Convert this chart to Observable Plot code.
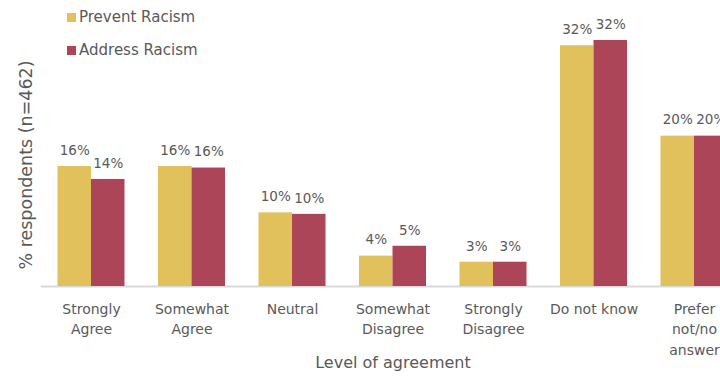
<!DOCTYPE html>
<html>
<head>
<meta charset="utf-8">
<script src="https://cdn.jsdelivr.net/npm/d3@7"></script>
<script src="https://cdn.jsdelivr.net/npm/@observablehq/plot@0.6"></script>
<style>
  html, body { margin: 0; padding: 0; background: #fff; overflow: hidden; width: 720px; height: 376px; }
  #wrap { position: relative; width: 720px; height: 376px; overflow: hidden; font-family: "Century Gothic", "DejaVu Sans", sans-serif; color: #595959; }
  #chart svg { max-width: none !important; }
  #legend { position: absolute; left: 67px; top: 6px; font-size: 15px; }
  .row { display: flex; align-items: center; height: 22px; margin-bottom: 11px; }
  .sw { width: 9px; height: 9px; margin-right: 3px; }
</style>
</head>
<body>
<div id="wrap"><div id="chart"></div><div id="legend"></div></div>
<script>
const categories = ["Strongly Agree", "Somewhat Agree", "Neutral", "Somewhat Disagree", "Strongly Disagree", "Do not know", "Prefer not/no answer"];
const tickLabels = ["Strongly\nAgree", "Somewhat\nAgree", "Neutral", "Somewhat\nDisagree", "Strongly\nDisagree", "Do not know", "Prefer\nnot/no\nanswer"];
const series = ["Prevent Racism", "Address Racism"];
const colors = ["#E0C15B", "#AD4558"];
const prevent = [15.8, 15.8, 9.7, 4.0, 3.2, 31.7, 19.8];
const address = [14.1, 15.6, 9.5, 5.3, 3.2, 32.4, 19.8];

const data = categories.flatMap((c, i) => [
  {category: c, series: series[0], value: prevent[i]},
  {category: c, series: series[1], value: address[i]}
]);

const font = '"Century Gothic", "DejaVu Sans", sans-serif';

const chart = Plot.plot({
  width: 760,
  height: 376,
  marginLeft: 40.75,
  marginRight: 15.75,
  marginTop: 43,
  marginBottom: 90,
  style: {fontFamily: font, color: "#595959", background: "transparent", overflow: "visible", maxWidth: "none"},
  fx: {domain: categories, padding: 0, round: false, label: null},
  x: {domain: series, paddingInner: 0, paddingOuter: 0.5, round: false, axis: null},
  y: {domain: [0, 32], axis: null},
  color: {domain: series, range: colors},
  marks: [
    Plot.ruleY([0], {stroke: "#D9D9D9", strokeWidth: 2}),
    Plot.barY(data, {fx: "category", x: "series", y: "value", fill: "series"}),
    Plot.text(data, {fx: "category", x: "series", y: "value", text: d => Math.round(d.value) + "%", dy: -16, fontSize: 13.5, fill: "#595959"}),
    Plot.axisFx({anchor: "bottom", tickSize: 0, tickPadding: 13, tickFormat: d => tickLabels[categories.indexOf(d)], fontSize: 14, lineHeight: 1.45, label: null, fill: "#595959"}),
    Plot.axisFx({anchor: "bottom", ticks: [], tickSize: 0, label: "Level of agreement", labelArrow: false, labelAnchor: "center", labelOffset: 81, fontSize: 16, fill: "#595959"}),
    Plot.axisY({ticks: [], tickSize: 0, label: "% respondents (n=462)", labelArrow: false, labelAnchor: "center", labelOffset: 22, fontSize: 17.5, fill: "#595959"})
  ]
});
document.getElementById("chart").appendChild(chart);

const legend = document.getElementById("legend");
series.forEach((s, i) => {
  const row = document.createElement("div");
  row.className = "row";
  const sw = document.createElement("span");
  sw.className = "sw";
  sw.style.background = colors[i];
  const t = document.createElement("span");
  t.textContent = s;
  row.appendChild(sw);
  row.appendChild(t);
  legend.appendChild(row);
});
</script>
</body>
</html>
